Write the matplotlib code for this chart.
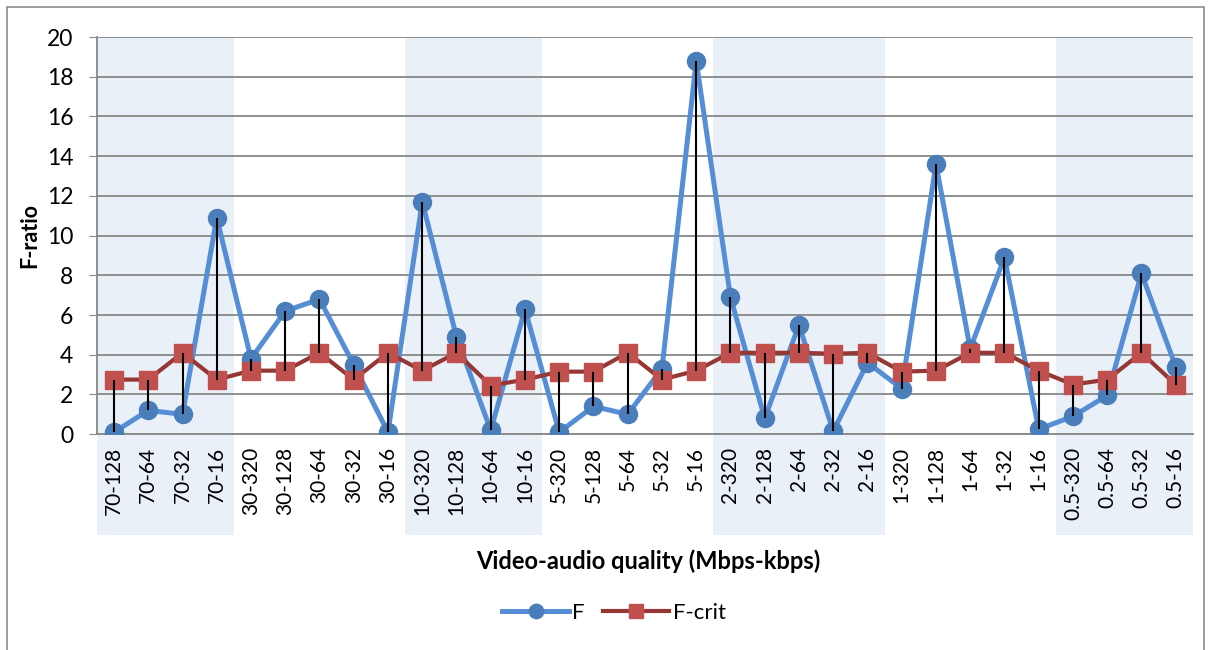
import numpy as np
import matplotlib.pyplot as plt
from matplotlib.patches import Rectangle

plt.rcParams['font.family'] = ['Lato', 'DejaVu Sans']

# data
labels = ['70-128', '70-64', '70-32', '70-16',
          '30-320', '30-128', '30-64', '30-32', '30-16',
          '10-320', '10-128', '10-64', '10-16',
          '5-320', '5-128', '5-64', '5-32', '5-16',
          '2-320', '2-128', '2-64', '2-32', '2-16',
          '1-320', '1-128', '1-64', '1-32', '1-16',
          '0.5-320', '0.5-64', '0.5-32', '0.5-16']
f_ratio = [0.1, 1.2, 1.0, 10.9,
           3.8, 6.2, 6.8, 3.5, 0.1,
           11.7, 4.9, 0.2, 6.3,
           0.1, 1.4, 1.0, 3.3, 18.8,
           6.9, 0.8, 5.5, 0.15, 3.6,
           2.3, 13.6, 4.3, 8.9, 0.25,
           0.9, 1.95, 8.1, 3.4]
f_crit = [2.75, 2.75, 4.1, 2.75,
          3.2, 3.2, 4.1, 2.75, 4.1,
          3.2, 4.1, 2.45, 2.75,
          3.15, 3.15, 4.1, 2.75, 3.2,
          4.1, 4.1, 4.1, 4.05, 4.1,
          3.15, 3.2, 4.1, 4.1, 3.2,
          2.5, 2.75, 4.1, 2.5]
# shaded groups (first index, last index)
shaded = [(0, 3), (9, 12), (18, 22), (28, 31)]

x = np.arange(len(labels))

fig = plt.figure(figsize=(12.11, 6.5), dpi=100)
ax = fig.add_axes([0.080, 0.332, 0.905, 0.611])

# outer chart border
fig.patches.append(Rectangle((0.006, -0.01), 0.988, 1.0, transform=fig.transFigure,
                             fill=False, edgecolor='#8c8c8c', lw=1.2))

for a, b in shaded:
    ax.axvspan(a - 0.5, b + 0.5, ymin=-0.255, ymax=1.0, color='#eaf0f8',
               zorder=0, clip_on=False, lw=0)

ax.set_ylim(0, 20)
ax.set_xlim(-0.5, len(labels) - 0.5)
ax.set_yticks(np.arange(0, 21, 2))
ax.yaxis.grid(True, color='#878787', lw=1.3)
ax.set_axisbelow(True)
for s in ['top', 'right']:
    ax.spines[s].set_visible(False)
ax.spines['left'].set_color('#878787')
ax.spines['left'].set_linewidth(1.3)
ax.spines['bottom'].set_color('#878787')
ax.spines['bottom'].set_linewidth(1.3)
ax.patch.set_alpha(0)

ax.plot(x, f_ratio, color='#558ed5', lw=3.6, marker='o', ms=13,
        mfc='#4a7ebb', mec='#4a7ebb', label='F', zorder=3)
ax.plot(x, f_crit, color='#953735', lw=3.0, marker='s', ms=13,
        mfc='#c0504d', mec='#c0504d', label='F-crit', zorder=4)
ax.vlines(x, f_crit, f_ratio, color='black', lw=1.5, zorder=5)

ax.set_xticks(x)
ax.set_xticklabels(labels, rotation=90, fontsize=15)
ax.tick_params(axis='x', length=0, pad=9)
ax.tick_params(axis='y', labelsize=16.5, length=6, color='#878787', pad=11)

ax.set_ylabel('F-ratio', fontsize=15.5, fontweight='bold')
ax.yaxis.set_label_coords(-0.052, 0.5)
fig.text(0.535, 0.136, 'Video-audio quality (Mbps-kbps)', ha='center', va='center',
         fontsize=17, fontweight='bold')

leg = fig.legend(loc='center', bbox_to_anchor=(0.507, 0.057), ncol=2, frameon=False,
                 fontsize=16, handlelength=3.0, columnspacing=0.8, handletextpad=0.15,
                 markerscale=0.8)

fig.savefig('out.png', dpi=100)
